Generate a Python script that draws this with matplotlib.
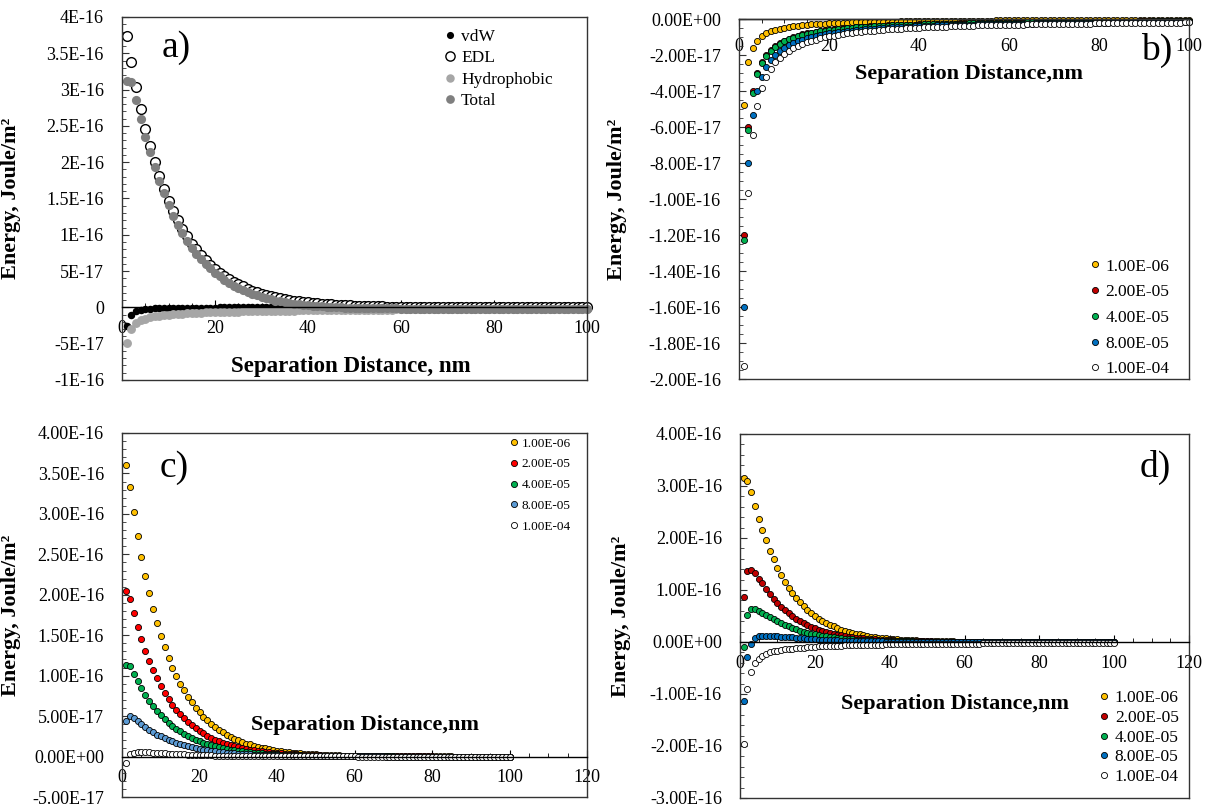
import numpy as np
import matplotlib
matplotlib.use('Agg')
import matplotlib.pyplot as plt
from matplotlib.ticker import MultipleLocator, FuncFormatter

plt.rcParams['font.family'] = ['Liberation Serif', 'DejaVu Serif']

UNIT = 1e-17  # all energies below are in units of 1E-17 J/m2
dist = np.arange(1, 101)  # separation distance, nm

# ---- panel a: components ----
a_vdw = [-2.6, -1.0, -0.55, -0.35, -0.24, -0.17, -0.13, -0.1, -0.08, -0.065,
         -0.055, -0.045, -0.04, -0.035, -0.03, -0.025, -0.022, -0.02, -0.018, -0.016,
         -0.01, -0.01, -0.01, -0.01, -0.01, -0.01, -0.01, -0.01, -0.01, -0.01,
         -0.01, -0.01, -0.01, -0.01, -0.01, -0.01, -0.01, -0.01, -0.01, -0.01,
         0.0, 0.0, 0.0, 0.0, 0.0, 0.0, 0.0, 0.0, 0.0, 0.0,
         0.0, 0.0, 0.0, 0.0, 0.0, 0.0, 0.0, 0.0, 0.0, 0.0,
         0.0, 0.0, 0.0, 0.0, 0.0, 0.0, 0.0, 0.0, 0.0, 0.0,
         0.0, 0.0, 0.0, 0.0, 0.0, 0.0, 0.0, 0.0, 0.0, 0.0,
         0.0, 0.0, 0.0, 0.0, 0.0, 0.0, 0.0, 0.0, 0.0, 0.0,
         0.0, 0.0, 0.0, 0.0, 0.0, 0.0, 0.0, 0.0, 0.0, 0.0]
a_edl = [37.4, 33.8, 30.3, 27.3, 24.6, 22.2, 20.0, 18.1, 16.3, 14.7,
         13.3, 12.0, 10.8, 9.8, 8.8, 8.0, 7.2, 6.5, 5.9, 5.3,
         4.8, 4.3, 3.9, 3.5, 3.2, 2.9, 2.6, 2.3, 2.1, 1.9,
         1.7, 1.55, 1.4, 1.26, 1.14, 1.03, 0.93, 0.84, 0.76, 0.68,
         0.62, 0.56, 0.5, 0.45, 0.41, 0.37, 0.33, 0.3, 0.27, 0.25,
         0.22, 0.2, 0.18, 0.16, 0.15, 0.13, 0.12, 0.11, 0.1, 0.09,
         0.08, 0.07, 0.07, 0.06, 0.05, 0.05, 0.04, 0.04, 0.04, 0.03,
         0.03, 0.03, 0.02, 0.02, 0.02, 0.02, 0.02, 0.01, 0.01, 0.01,
         0.01, 0.01, 0.01, 0.01, 0.01, 0.0, 0.0, 0.0, 0.0, 0.0,
         0.0, 0.0, 0.0, 0.0, 0.0, 0.0, 0.0, 0.0, 0.0, 0.0]
a_hydro = [-4.9, -3.0, -2.2, -1.8, -1.55, -1.38, -1.25, -1.15, -1.07, -1.0,
           -0.95, -0.9, -0.86, -0.82, -0.78, -0.75, -0.72, -0.7, -0.68, -0.66,
           -0.64, -0.62, -0.6, -0.58, -0.57, -0.55, -0.54, -0.52, -0.51, -0.5,
           -0.49, -0.48, -0.47, -0.46, -0.45, -0.44, -0.43, -0.42, -0.41, -0.4,
           -0.39, -0.38, -0.38, -0.37, -0.36, -0.35, -0.35, -0.34, -0.33, -0.33,
           -0.32, -0.32, -0.31, -0.31, -0.3, -0.3, -0.29, -0.29, -0.28, -0.28,
           -0.27, -0.27, -0.27, -0.26, -0.26, -0.25, -0.25, -0.25, -0.24, -0.24,
           -0.24, -0.23, -0.23, -0.23, -0.22, -0.22, -0.22, -0.21, -0.21, -0.21,
           -0.21, -0.2, -0.2, -0.2, -0.2, -0.19, -0.19, -0.19, -0.19, -0.18,
           -0.18, -0.18, -0.18, -0.18, -0.17, -0.17, -0.17, -0.17, -0.17, -0.16]
a_total = [31.2, 31.0, 28.5, 26.0, 23.5, 21.4, 19.3, 17.4, 15.7, 14.1,
           12.6, 11.3, 10.2, 9.2, 8.2, 7.4, 6.6, 6.0, 5.4, 4.8,
           4.3, 3.8, 3.4, 3.0, 2.7, 2.4, 2.1, 1.85, 1.65, 1.45,
           1.25, 1.1, 0.95, 0.82, 0.7, 0.6, 0.5, 0.42, 0.35, 0.28,
           0.23, 0.18, 0.13, 0.09, 0.06, 0.03, 0.0, -0.02, -0.04, -0.06,
           -0.08, -0.09, -0.1, -0.11, -0.12, -0.13, -0.14, -0.15, -0.15, -0.16,
           -0.16, -0.17, -0.17, -0.17, -0.18, -0.18, -0.18, -0.18, -0.18, -0.18,
           -0.18, -0.18, -0.18, -0.18, -0.18, -0.18, -0.18, -0.18, -0.18, -0.18,
           -0.17, -0.17, -0.17, -0.17, -0.17, -0.17, -0.17, -0.17, -0.17, -0.17,
           -0.16, -0.16, -0.16, -0.16, -0.16, -0.16, -0.16, -0.16, -0.16, -0.16]

# ---- concentrations used in b, c, d ----
conc_labels = ['1.00E-06', '2.00E-05', '4.00E-05', '8.00E-05', '1.00E-04']

# panel b
b_1e6 = [-4.8, -2.4, -1.6, -1.2, -0.96, -0.8, -0.69, -0.6, -0.53, -0.48,
         -0.44, -0.4, -0.37, -0.34, -0.32, -0.3, -0.28, -0.27, -0.25, -0.24,
         -0.23, -0.22, -0.21, -0.2, -0.19, -0.18, -0.18, -0.17, -0.17, -0.16,
         -0.15, -0.15, -0.15, -0.14, -0.14, -0.13, -0.13, -0.13, -0.12, -0.12,
         -0.12, -0.11, -0.11, -0.11, -0.11, -0.1, -0.1, -0.1, -0.1, -0.1,
         -0.09, -0.09, -0.09, -0.09, -0.09, -0.09, -0.08, -0.08, -0.08, -0.08,
         -0.08, -0.08, -0.08, -0.07, -0.07, -0.07, -0.07, -0.07, -0.07, -0.07,
         -0.07, -0.07, -0.07, -0.06, -0.06, -0.06, -0.06, -0.06, -0.06, -0.06,
         -0.06, -0.06, -0.06, -0.06, -0.06, -0.06, -0.06, -0.06, -0.06, -0.06,
         -0.05, -0.05, -0.05, -0.05, -0.05, -0.05, -0.05, -0.05, -0.05, -0.05]
b_2e5 = [-12.0, -6.0, -4.0, -3.0, -2.4, -2.0, -1.71, -1.5, -1.33, -1.2,
         -1.09, -1.0, -0.92, -0.86, -0.8, -0.75, -0.71, -0.67, -0.63, -0.6,
         -0.57, -0.55, -0.52, -0.5, -0.48, -0.46, -0.44, -0.43, -0.41, -0.4,
         -0.39, -0.38, -0.36, -0.35, -0.34, -0.33, -0.32, -0.32, -0.31, -0.3,
         -0.29, -0.29, -0.28, -0.27, -0.27, -0.26, -0.26, -0.25, -0.24, -0.24,
         -0.24, -0.23, -0.23, -0.22, -0.22, -0.21, -0.21, -0.21, -0.2, -0.2,
         -0.2, -0.19, -0.19, -0.19, -0.18, -0.18, -0.18, -0.18, -0.17, -0.17,
         -0.17, -0.17, -0.16, -0.16, -0.16, -0.16, -0.16, -0.15, -0.15, -0.15,
         -0.15, -0.15, -0.14, -0.14, -0.14, -0.14, -0.14, -0.14, -0.13, -0.13,
         -0.13, -0.13, -0.13, -0.13, -0.13, -0.13, -0.12, -0.12, -0.12, -0.12]
b_4e5 = [-12.3, -6.15, -4.1, -3.08, -2.46, -2.05, -1.76, -1.54, -1.37, -1.23,
         -1.12, -1.03, -0.95, -0.88, -0.82, -0.77, -0.72, -0.68, -0.65, -0.62,
         -0.59, -0.56, -0.53, -0.51, -0.49, -0.47, -0.46, -0.44, -0.42, -0.41,
         -0.4, -0.38, -0.37, -0.36, -0.35, -0.34, -0.33, -0.32, -0.32, -0.31,
         -0.3, -0.29, -0.29, -0.28, -0.27, -0.27, -0.26, -0.26, -0.25, -0.25,
         -0.24, -0.24, -0.23, -0.23, -0.22, -0.22, -0.22, -0.21, -0.21, -0.21,
         -0.2, -0.2, -0.2, -0.19, -0.19, -0.19, -0.18, -0.18, -0.18, -0.18,
         -0.17, -0.17, -0.17, -0.17, -0.16, -0.16, -0.16, -0.16, -0.16, -0.15,
         -0.15, -0.15, -0.15, -0.15, -0.14, -0.14, -0.14, -0.14, -0.14, -0.14,
         -0.14, -0.13, -0.13, -0.13, -0.13, -0.13, -0.13, -0.13, -0.12, -0.12]
b_8e5 = [-16.0, -8.0, -5.33, -4.0, -3.2, -2.67, -2.29, -2.0, -1.78, -1.6,
         -1.45, -1.33, -1.23, -1.14, -1.07, -1.0, -0.94, -0.89, -0.84, -0.8,
         -0.76, -0.73, -0.7, -0.67, -0.64, -0.62, -0.59, -0.57, -0.55, -0.53,
         -0.52, -0.5, -0.48, -0.47, -0.46, -0.44, -0.43, -0.42, -0.41, -0.4,
         -0.39, -0.38, -0.37, -0.36, -0.36, -0.35, -0.34, -0.33, -0.33, -0.32,
         -0.31, -0.31, -0.3, -0.3, -0.29, -0.29, -0.28, -0.28, -0.27, -0.27,
         -0.26, -0.26, -0.25, -0.25, -0.25, -0.24, -0.24, -0.24, -0.23, -0.23,
         -0.23, -0.22, -0.22, -0.22, -0.21, -0.21, -0.21, -0.21, -0.2, -0.2,
         -0.2, -0.2, -0.19, -0.19, -0.19, -0.19, -0.18, -0.18, -0.18, -0.18,
         -0.18, -0.17, -0.17, -0.17, -0.17, -0.17, -0.16, -0.16, -0.16, -0.16]
b_1e4 = [-19.3, -9.65, -6.43, -4.83, -3.86, -3.22, -2.76, -2.41, -2.14, -1.93,
         -1.75, -1.61, -1.48, -1.38, -1.29, -1.21, -1.14, -1.07, -1.02, -0.97,
         -0.92, -0.88, -0.84, -0.8, -0.77, -0.74, -0.71, -0.69, -0.67, -0.64,
         -0.62, -0.6, -0.58, -0.57, -0.55, -0.54, -0.52, -0.51, -0.49, -0.48,
         -0.47, -0.46, -0.45, -0.44, -0.43, -0.42, -0.41, -0.4, -0.39, -0.39,
         -0.38, -0.37, -0.36, -0.36, -0.35, -0.34, -0.34, -0.33, -0.33, -0.32,
         -0.32, -0.31, -0.31, -0.3, -0.3, -0.29, -0.29, -0.28, -0.28, -0.28,
         -0.27, -0.27, -0.26, -0.26, -0.26, -0.25, -0.25, -0.25, -0.24, -0.24,
         -0.24, -0.24, -0.23, -0.23, -0.23, -0.22, -0.22, -0.22, -0.22, -0.21,
         -0.21, -0.21, -0.21, -0.21, -0.2, -0.2, -0.2, -0.2, -0.19, -0.19]

# panel c
c_1e6 = [36.0, 33.3, 30.2, 27.3, 24.7, 22.3, 20.2, 18.3, 16.5, 14.9,
         13.5, 12.2, 11.0, 10.0, 9.0, 8.2, 7.4, 6.7, 6.0, 5.5,
         4.9, 4.5, 4.0, 3.6, 3.3, 3.0, 2.7, 2.4, 2.2, 2.0,
         1.8, 1.6, 1.5, 1.3, 1.2, 1.1, 1.0, 0.9, 0.8, 0.7,
         0.65, 0.6, 0.53, 0.48, 0.43, 0.39, 0.35, 0.32, 0.29, 0.26,
         0.24, 0.21, 0.19, 0.17, 0.16, 0.14, 0.13, 0.12, 0.1, 0.1,
         0.08, 0.07, 0.07, 0.06, 0.05, 0.05, 0.04, 0.04, 0.04, 0.03,
         0.03, 0.03, 0.02, 0.02, 0.02, 0.02, 0.02, 0.01, 0.01, 0.01,
         0.01, 0.01, 0.01, 0.01, 0.01, 0.0, 0.0, 0.0, 0.0, 0.0,
         0.0, 0.0, 0.0, 0.0, 0.0, 0.0, 0.0, 0.0, 0.0, 0.0]
c_2e5 = [20.5, 19.5, 17.7, 16.0, 14.5, 13.0, 11.8, 10.7, 9.7, 8.7,
         7.9, 7.1, 6.4, 5.8, 5.3, 4.8, 4.3, 3.9, 3.5, 3.2,
         2.9, 2.6, 2.35, 2.1, 1.9, 1.73, 1.57, 1.42, 1.28, 1.16,
         1.05, 0.95, 0.86, 0.78, 0.7, 0.64, 0.58, 0.52, 0.47, 0.43,
         0.39, 0.35, 0.32, 0.29, 0.26, 0.23, 0.21, 0.19, 0.17, 0.16,
         0.14, 0.13, 0.12, 0.11, 0.1, 0.09, 0.08, 0.07, 0.06, 0.06,
         0.05, 0.05, 0.04, 0.04, 0.04, 0.03, 0.03, 0.03, 0.02, 0.02,
         0.02, 0.02, 0.02, 0.01, 0.01, 0.01, 0.01, 0.01, 0.01, 0.01,
         0.0, 0.0, 0.0, 0.0, 0.0, 0.0, 0.0, 0.0, 0.0, 0.0,
         0.0, 0.0, 0.0, 0.0, 0.0, 0.0, 0.0, 0.0, 0.0, 0.0]
c_4e5 = [11.3, 11.2, 10.2, 9.3, 8.5, 7.6, 6.9, 6.2, 5.6, 5.1,
         4.6, 4.2, 3.8, 3.4, 3.1, 2.8, 2.5, 2.3, 2.1, 1.9,
         1.7, 1.55, 1.4, 1.27, 1.15, 1.04, 0.94, 0.85, 0.77, 0.7,
         0.63, 0.57, 0.52, 0.47, 0.42, 0.38, 0.35, 0.31, 0.28, 0.26,
         0.23, 0.21, 0.19, 0.17, 0.16, 0.14, 0.13, 0.12, 0.1, 0.09,
         0.08, 0.08, 0.07, 0.06, 0.06, 0.05, 0.05, 0.04, 0.04, 0.03,
         0.03, 0.03, 0.02, 0.02, 0.02, 0.02, 0.02, 0.01, 0.01, 0.01,
         0.0, 0.0, 0.0, 0.0, 0.0, 0.0, 0.0, 0.0, 0.0, 0.0,
         0.0, 0.0, 0.0, 0.0, 0.0, 0.0, 0.0, 0.0, 0.0, 0.0,
         0.0, 0.0, 0.0, 0.0, 0.0, 0.0, 0.0, 0.0, 0.0, 0.0]
c_8e5 = [4.4, 5.0, 4.8, 4.4, 4.0, 3.6, 3.3, 3.0, 2.7, 2.5,
         2.3, 2.1, 1.9, 1.7, 1.55, 1.4, 1.3, 1.15, 1.05, 0.95,
         0.87, 0.79, 0.72, 0.65, 0.59, 0.54, 0.49, 0.45, 0.41, 0.37,
         0.34, 0.31, 0.28, 0.25, 0.23, 0.21, 0.19, 0.17, 0.16, 0.14,
         0.13, 0.12, 0.11, 0.1, 0.09, 0.08, 0.07, 0.07, 0.06, 0.05,
         0.05, 0.04, 0.04, 0.04, 0.03, 0.03, 0.03, 0.02, 0.02, 0.02,
         0.02, 0.02, 0.01, 0.01, 0.01, 0.01, 0.01, 0.0, 0.0, 0.0,
         0.0, 0.0, 0.0, 0.0, 0.0, 0.0, 0.0, 0.0, 0.0, 0.0,
         0.0, 0.0, 0.0, 0.0, 0.0, 0.0, 0.0, 0.0, 0.0, 0.0,
         0.0, 0.0, 0.0, 0.0, 0.0, 0.0, 0.0, 0.0, 0.0, 0.0]
c_1e4 = [-0.8, 0.3, 0.5, 0.6, 0.6, 0.58, 0.55, 0.5, 0.47, 0.44,
         0.4, 0.37, 0.34, 0.31, 0.28, 0.26, 0.24, 0.22, 0.2, 0.18,
         0.16, 0.15, 0.14, 0.12, 0.11, 0.1, 0.09, 0.08, 0.08, 0.07,
         0.06, 0.06, 0.05, 0.05, 0.04, 0.04, 0.03, 0.03, 0.03, 0.03,
         0.02, 0.02, 0.02, 0.02, 0.02, 0.02, 0.02, 0.02, 0.02, 0.02,
         0.01, 0.01, 0.01, 0.01, 0.01, 0.01, 0.01, 0.01, 0.01, 0.01,
         0.0, 0.0, 0.0, 0.0, 0.0, 0.0, 0.0, 0.0, 0.0, 0.0,
         0.0, 0.0, 0.0, 0.0, 0.0, 0.0, 0.0, 0.0, 0.0, 0.0,
         0.0, 0.0, 0.0, 0.0, 0.0, 0.0, 0.0, 0.0, 0.0, 0.0,
         0.0, 0.0, 0.0, 0.0, 0.0, 0.0, 0.0, 0.0, 0.0, 0.0]

# panel d
d_1e6 = [31.5, 31.0, 28.8, 26.2, 23.7, 21.5, 19.6, 17.5, 15.9, 14.3,
         12.8, 11.5, 10.4, 9.4, 8.5, 7.6, 6.9, 6.2, 5.6, 5.0,
         4.5, 4.1, 3.7, 3.3, 3.0, 2.7, 2.4, 2.2, 2.0, 1.8,
         1.6, 1.45, 1.3, 1.17, 1.05, 0.95, 0.85, 0.77, 0.69, 0.62,
         0.56, 0.5, 0.45, 0.41, 0.37, 0.33, 0.3, 0.27, 0.24, 0.22,
         0.2, 0.18, 0.16, 0.14, 0.13, 0.12, 0.1, 0.09, 0.08, 0.08,
         0.07, 0.06, 0.06, 0.05, 0.04, 0.04, 0.04, 0.03, 0.03, 0.03,
         0.02, 0.02, 0.02, 0.02, 0.02, 0.01, 0.01, 0.01, 0.01, 0.01,
         0.0, 0.0, 0.0, 0.0, 0.0, 0.0, 0.0, 0.0, 0.0, 0.0,
         0.0, 0.0, 0.0, 0.0, 0.0, 0.0, 0.0, 0.0, 0.0, 0.0]
d_2e5 = [8.7, 13.7, 13.9, 13.2, 12.2, 11.3, 10.2, 9.2, 8.3, 7.5,
         6.8, 6.1, 5.5, 5.0, 4.5, 4.0, 3.6, 3.3, 2.9, 2.65,
         2.4, 2.15, 1.95, 1.75, 1.58, 1.42, 1.28, 1.15, 1.04, 0.94,
         0.85, 0.76, 0.69, 0.62, 0.56, 0.5, 0.45, 0.41, 0.37, 0.33,
         0.3, 0.27, 0.24, 0.22, 0.2, 0.18, 0.16, 0.14, 0.13, 0.12,
         0.1, 0.09, 0.08, 0.08, 0.07, 0.06, 0.05, 0.05, 0.04, 0.04,
         0.04, 0.03, 0.03, 0.03, 0.02, 0.02, 0.02, 0.02, 0.01, 0.01,
         0.0, 0.0, 0.0, 0.0, 0.0, 0.0, 0.0, 0.0, 0.0, 0.0,
         0.0, 0.0, 0.0, 0.0, 0.0, 0.0, 0.0, 0.0, 0.0, 0.0,
         0.0, 0.0, 0.0, 0.0, 0.0, 0.0, 0.0, 0.0, 0.0, 0.0]
d_4e5 = [-1.0, 5.1, 6.3, 6.3, 6.0, 5.6, 5.2, 4.8, 4.4, 4.0,
         3.6, 3.3, 3.0, 2.7, 2.45, 2.2, 2.0, 1.8, 1.62, 1.46,
         1.32, 1.19, 1.07, 0.96, 0.87, 0.78, 0.7, 0.63, 0.57, 0.51,
         0.46, 0.42, 0.37, 0.34, 0.3, 0.27, 0.25, 0.22, 0.2, 0.18,
         0.16, 0.15, 0.13, 0.12, 0.11, 0.1, 0.09, 0.08, 0.07, 0.06,
         0.06, 0.05, 0.05, 0.04, 0.04, 0.03, 0.03, 0.03, 0.02, 0.02,
         0.02, 0.02, 0.01, 0.01, 0.01, 0.01, 0.0, 0.0, 0.0, 0.0,
         0.0, 0.0, 0.0, 0.0, 0.0, 0.0, 0.0, 0.0, 0.0, 0.0,
         0.0, 0.0, 0.0, 0.0, 0.0, 0.0, 0.0, 0.0, 0.0, 0.0,
         0.0, 0.0, 0.0, 0.0, 0.0, 0.0, 0.0, 0.0, 0.0, 0.0]
d_8e5 = [-11.3, -2.9, -0.4, 0.7, 1.1, 1.2, 1.2, 1.2, 1.15, 1.1,
         1.05, 1.0, 0.93, 0.87, 0.8, 0.74, 0.68, 0.63, 0.57, 0.53,
         0.48, 0.44, 0.4, 0.37, 0.34, 0.31, 0.28, 0.26, 0.23, 0.21,
         0.19, 0.18, 0.16, 0.15, 0.13, 0.12, 0.11, 0.1, 0.09, 0.08,
         0.07, 0.07, 0.06, 0.06, 0.05, 0.05, 0.04, 0.04, 0.04, 0.03,
         0.03, 0.03, 0.02, 0.02, 0.02, 0.02, 0.02, 0.01, 0.01, 0.01,
         0.0, 0.0, 0.0, 0.0, 0.0, 0.0, 0.0, 0.0, 0.0, 0.0,
         0.0, 0.0, 0.0, 0.0, 0.0, 0.0, 0.0, 0.0, 0.0, 0.0,
         0.0, 0.0, 0.0, 0.0, 0.0, 0.0, 0.0, 0.0, 0.0, 0.0,
         0.0, 0.0, 0.0, 0.0, 0.0, 0.0, 0.0, 0.0, 0.0, 0.0]
d_1e4 = [-19.6, -9.0, -5.7, -4.1, -3.3, -2.7, -2.3, -2.0, -1.8, -1.65,
         -1.52, -1.42, -1.33, -1.25, -1.18, -1.12, -1.06, -1.0, -0.95, -0.9,
         -0.86, -0.82, -0.79, -0.76, -0.73, -0.7, -0.68, -0.66, -0.64, -0.62,
         -0.6, -0.58, -0.56, -0.55, -0.53, -0.52, -0.5, -0.49, -0.48, -0.47,
         -0.46, -0.45, -0.44, -0.43, -0.42, -0.41, -0.4, -0.39, -0.38, -0.37,
         -0.36, -0.36, -0.35, -0.34, -0.34, -0.33, -0.33, -0.32, -0.31, -0.31,
         -0.3, -0.3, -0.29, -0.29, -0.28, -0.28, -0.28, -0.27, -0.27, -0.26,
         -0.26, -0.26, -0.25, -0.25, -0.25, -0.24, -0.24, -0.24, -0.23, -0.23,
         -0.23, -0.22, -0.22, -0.22, -0.22, -0.21, -0.21, -0.21, -0.21, -0.2,
         -0.2, -0.2, -0.2, -0.19, -0.19, -0.19, -0.19, -0.19, -0.18, -0.18]

colors_bd = ['#FFC000', '#C00000', '#00B050', '#0070C0', 'white']
colors_c = ['#FFC000', '#FF0000', '#00B050', '#5B9BD5', 'white']

FRAME = '#333333'
TICK_FS = 13
LABEL_FS = 16


def general_fmt(v, pos):
    if abs(v) < 1e-30:
        return '0'
    return '{:.2g}'.format(v).upper()


def sci_fmt(v, pos):
    if abs(v) < 1e-30:
        v = 0.0
    return '{:.2E}'.format(v)


def style_axes(ax, xmax, yticks, yminor, fmt, xdir, ylab_x):
    ax.set_xlim(0, xmax)
    ax.set_ylim(yticks[0], yticks[-1])
    for side in ['left', 'top', 'right']:
        ax.spines[side].set_color(FRAME)
        ax.spines[side].set_linewidth(1.0)
    # horizontal axis crosses at zero, Excel style
    ax.spines['bottom'].set_position(('data', 0))
    ax.spines['bottom'].set_color('black')
    ax.spines['bottom'].set_linewidth(1.0)
    ax.axhline(yticks[0], color=FRAME, lw=1.0, clip_on=False)
    ax.set_xticks(np.arange(0, xmax + 1, 20))
    ax.xaxis.set_minor_locator(MultipleLocator(5))
    ax.set_yticks(yticks)
    ax.yaxis.set_minor_locator(MultipleLocator(yminor))
    ax.yaxis.set_major_formatter(FuncFormatter(fmt))
    ax.tick_params(axis='x', which='both', direction=xdir, top=False,
                   labelsize=TICK_FS, pad=9, color='black')
    ax.tick_params(axis='y', which='both', direction='in', right=False,
                   labelsize=TICK_FS, pad=13, color=FRAME)
    ax.tick_params(which='major', length=5)
    ax.tick_params(which='minor', length=3)
    ax.set_ylabel('Energy, Joule/m²', fontsize=LABEL_FS, fontweight='bold')
    ax.yaxis.set_label_coords(ylab_x, 0.5)


fig = plt.figure(figsize=(12.09, 8.08), dpi=100)
W, H = 1209, 808
ax_a = fig.add_axes([122 / W, 1 - 380 / H, 465 / W, 363 / H])
ax_b = fig.add_axes([739 / W, 1 - 379 / H, 450 / W, 360 / H])
ax_c = fig.add_axes([122 / W, 1 - 797 / H, 465 / W, 364 / H])
ax_d = fig.add_axes([740 / W, 1 - 798 / H, 449 / W, 364 / H])

# ---- a ----
style_axes(ax_a, 100, np.arange(-10, 41, 5) * UNIT, 1 * UNIT, general_fmt, 'in', -0.217)
ax_a.plot(dist, np.array(a_vdw) * UNIT, 'o', ms=5.4, mfc='black', mec='black', mew=0,
          clip_on=False, label='vdW')
ax_a.plot(dist, np.array(a_edl) * UNIT, 'o', ms=7, mfc='white', mec='black', mew=1.0,
          clip_on=False, label='EDL')
ax_a.plot(dist, np.array(a_hydro) * UNIT, 'o', ms=6.4, mfc='#A6A6A6', mec='#A6A6A6', mew=0,
          clip_on=False, label='Hydrophobic')
ax_a.plot(dist, np.array(a_total) * UNIT, 'o', ms=6.6, mfc='#7F7F7F', mec='#7F7F7F', mew=0,
          clip_on=False, label='Total')
ax_a.legend(loc='upper left', bbox_to_anchor=(0.69, 0.967), frameon=False, fontsize=12.5,
            handlelength=0.8, handletextpad=0.25, labelspacing=0.3, borderpad=0,
            borderaxespad=0, markerscale=0.95)
ax_a.set_xlabel('Separation Distance, nm', fontsize=LABEL_FS + 0.5, fontweight='bold')
ax_a.xaxis.set_label_coords(0.492, 0.036)
ax_a.xaxis.label.set_va('center')
ax_a.text(0.116, 0.915, 'a)', transform=ax_a.transAxes, fontsize=27,
          ha='center', va='center')

# ---- b, c, d ----
panels = [
    (ax_b, [b_1e6, b_2e5, b_4e5, b_8e5, b_1e4], colors_bd, 100,
     np.arange(-20, 1, 2) * UNIT, 0.5 * UNIT, 'out', -0.249,
     'Separation Distance,nm', (0.511, 0.847), 'b)', (0.929, 0.914),
     (0.78, 0.335), 12.5, 0.55),
    (ax_c, [c_1e6, c_2e5, c_4e5, c_8e5, c_1e4], colors_c, 120,
     np.arange(-5, 41, 5) * UNIT, 1 * UNIT, 'in', -0.217,
     'Separation Distance,nm', (0.523, 0.198), 'c)', (0.112, 0.904),
     (0.834, 0.988), 9.5, 0.65),
    (ax_d, [d_1e6, d_2e5, d_4e5, d_8e5, d_1e4], colors_bd, 120,
     np.arange(-30, 41, 10) * UNIT, 2 * UNIT, 'in', -0.243,
     'Separation Distance,nm', (0.479, 0.258), 'd)', (0.924, 0.909),
     (0.80, 0.296), 12.5, 0.2),
]

for (ax, series, cols, xmax, yt, ymin_step, xdir, ylx, xlab, xlab_pos,
     letter, letter_pos, leg_pos, leg_fs, leg_sp) in panels:
    style_axes(ax, xmax, yt, ymin_step, sci_fmt, xdir, ylx)
    for vals, col, lab in zip(series, cols, conc_labels):
        ax.plot(dist, np.array(vals) * UNIT, 'o', ms=4.4, mfc=col, mec='black',
                mew=0.6, clip_on=False, label=lab)
    ax.legend(loc='upper left', bbox_to_anchor=leg_pos, frameon=False,
              fontsize=leg_fs, handlelength=0.6, handletextpad=0.3,
              labelspacing=leg_sp, borderpad=0, borderaxespad=0)
    ax.set_xlabel(xlab, fontsize=LABEL_FS, fontweight='bold')
    ax.xaxis.set_label_coords(*xlab_pos)
    ax.xaxis.label.set_va('center')
    ax.text(letter_pos[0], letter_pos[1], letter, transform=ax.transAxes,
            fontsize=27, ha='center', va='center')

fig.savefig('out.png', dpi=100, facecolor='white')
